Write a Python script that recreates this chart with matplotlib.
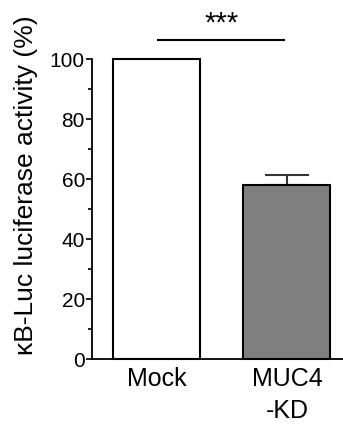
import matplotlib
matplotlib.use("Agg")
import matplotlib.pyplot as plt
from matplotlib.ticker import MultipleLocator

categories = ["Mock", "MUC4\n-KD"]
values = [100, 58]
errors_upper = [0, 3.4]
colors = ["white", "#808080"]
yticks = [0, 20, 40, 60, 80, 100]
sig_label = "***"

plt.rcParams['font.family'] = ['Liberation Sans', 'DejaVu Sans']

fig = plt.figure(figsize=(3.43, 4.24), dpi=100)
ax = fig.add_axes([0.268, 0.1533, 0.732, 0.7075])

x = [0, 1]
ax.bar(x, values, width=0.667, color=colors, edgecolor="black", linewidth=1.5, zorder=2, clip_on=False)
ax.errorbar([x[1]], [values[1]], yerr=[[0], [errors_upper[1]]], fmt='none', ecolor='#333333',
            elinewidth=1.5, capsize=15.5, capthick=1.5, zorder=1)

ax.set_xlim(-0.494, 1.43)
ax.set_ylim(0, 100)
ax.set_yticks(yticks)
ax.yaxis.set_minor_locator(MultipleLocator(10))
ax.tick_params(axis='y', which='major', length=4, width=1.2, labelsize=15, pad=1)
ax.tick_params(axis='y', which='minor', length=3, width=1.2)
ax.set_xticks(x)
ax.set_xticklabels(categories, fontsize=18, linespacing=1.4)
ax.tick_params(axis='x', length=0, pad=6)

for s in ['top', 'right']:
    ax.spines[s].set_visible(False)
ax.spines['left'].set_linewidth(1.3)
ax.spines['bottom'].set_linewidth(1.3)

ax.set_ylabel("κB-Luc luciferase activity (%)", fontsize=19)
ax.yaxis.set_label_coords(-0.213, 0.578)

ax.plot([0.013, 0.98], [106.3, 106.3], color='black', lw=1.5, clip_on=False)
ax.text(0.5, 107.3, sig_label, ha='center', va='bottom', fontsize=21)

fig.savefig("out.png", dpi=100)
